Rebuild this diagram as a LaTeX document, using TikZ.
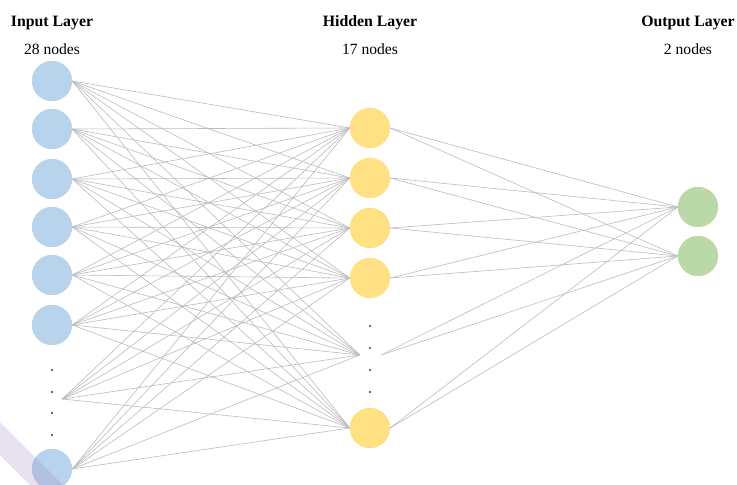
\documentclass[tikz,border=0pt]{standalone}
\usepackage{fontspec}
\setmainfont{Liberation Serif}
\begin{document}
\begin{tikzpicture}[x=1pt,y=-1pt,
  neuron/.style={circle,minimum size=40pt,inner sep=0pt,draw=none},
  inneuron/.style={neuron,fill=inblue},
  hidneuron/.style={neuron,fill=hidyellow},
  outneuron/.style={neuron,fill=outgreen},
  gap/.style={circle,minimum size=20pt,inner sep=0pt,draw=none},
  ellip/.style={circle,fill=black!75,inner sep=0pt,minimum size=2.4pt},
  wire/.style={draw=wiregray,line width=0.6pt},
  title/.style={font=\fontsize{15.8}{18}\selectfont\bfseries,anchor=base},
  count/.style={font=\fontsize{15.6}{18}\selectfont,anchor=base}]
\definecolor{inblue}{RGB}{184,212,236}
\definecolor{hidyellow}{RGB}{255,224,130}
\definecolor{outgreen}{RGB}{186,216,168}
\definecolor{wiregray}{RGB}{188,188,188}
\definecolor{bandviolet}{RGB}{155,120,187}
\useasboundingbox (0,0) rectangle (737,485);
\fill[white] (0,0) rectangle (737,485);

% headings
\node[title] (tin) at (52,26) {Input Layer};
\node[count] (cin) at (52,54) {28 nodes};
\node[title] (thid) at (370,26) {Hidden Layer};
\node[count] (chid) at (370,54) {17 nodes};
\node[title] (tout) at (688,26) {Output Layer};
\node[count] (cout) at (688,54) {2 nodes};

% input layer (i8 stands for the elided neurons)
\foreach \i/\y in {1/81,2/129,3/179,4/227,5/275,6/325,7/469}
  \node[inneuron] (i\i) at (52,\y) {};
\node[gap] (i8) at (52,399) {};
\foreach \y in {370,392,413,435}
  \node[ellip] at (52,\y) {};

% hidden layer (h6 stands for the elided neurons)
\foreach \j/\y in {1/128,2/178,3/228,4/278,5/428}
  \node[hidneuron] (h\j) at (370,\y) {};
\node[gap,minimum size=21pt] (h6) at (370.5,355) {};
\foreach \y in {326,348,370,392}
  \node[ellip] at (370,\y) {};

% output layer
\node[outneuron] (o1) at (698,207) {};
\node[outneuron] (o2) at (698,256) {};

% fully connected weights
\foreach \i in {1,...,8}
  \foreach \j in {1,...,6}
    \draw[wire] (i\i.east) -- (h\j.west);
\foreach \j in {1,...,6}
  \foreach \k in {1,2}
    \draw[wire] (h\j.east) -- (o\k.west);

% redraw neurons above the wires
\foreach \i/\y in {1/81,2/129,3/179,4/227,5/275,6/325,7/469}
  \fill[inblue] (52,\y) circle (20);
\foreach \j/\y in {1/128,2/178,3/228,4/278,5/428}
  \fill[hidyellow] (370,\y) circle (20);
\fill[outgreen] (698,207) circle (20);
\fill[outgreen] (698,256) circle (20);

% diagonal band in the lower left corner
\fill[bandviolet,opacity=0.22] (-20,402) -- (0,422) -- (90,512) -- (57,512) -- (0,455) -- (-20,435) -- cycle;
\end{tikzpicture}
\end{document}
